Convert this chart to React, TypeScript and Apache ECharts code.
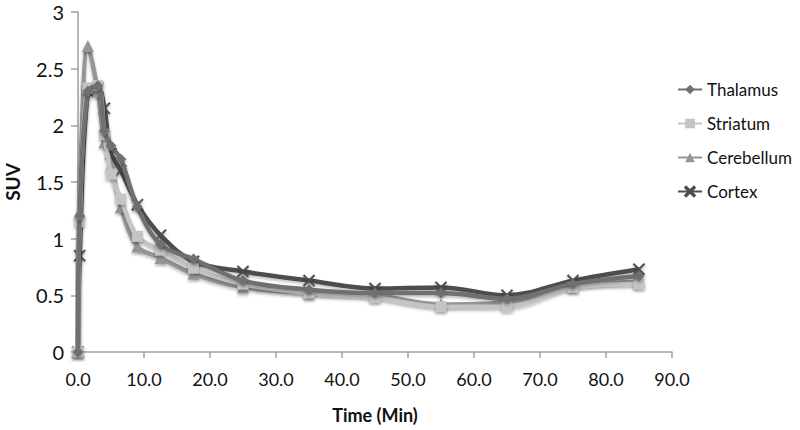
import React, { useEffect, useRef } from "react";
import * as echarts from "echarts";

const times = [0, 0.25, 1.5, 3, 4, 5, 6.5, 9, 12.5, 17.5, 25, 35, 45, 55, 65, 75, 85];
const thalamus = [0, 1.2, 2.3, 2.35, 1.95, 1.82, 1.7, 1.28, 0.95, 0.82, 0.63, 0.55, 0.52, 0.52, 0.47, 0.6, 0.67];
const striatum = [0, 1.15, 2.33, 2.35, 1.92, 1.57, 1.35, 1.02, 0.9, 0.74, 0.6, 0.52, 0.48, 0.4, 0.4, 0.57, 0.6];
const cerebellum = [0, 1.23, 2.7, 2.3, 1.85, 1.65, 1.28, 0.93, 0.83, 0.69, 0.57, 0.52, 0.5, 0.42, 0.44, 0.58, 0.62];
const cortex = [0, 0.85, 2.3, 2.33, 2.15, 1.75, 1.6, 1.3, 1.03, 0.8, 0.71, 0.63, 0.56, 0.57, 0.5, 0.63, 0.73];

const seriesNames = ["Thalamus", "Striatum", "Cerebellum", "Cortex"];
const seriesValues = [thalamus, striatum, cerebellum, cortex];
const seriesColors = ["#6f6f6f", "#c4c4c4", "#959595", "#4d4d4d"];
const xSymbol =
  "path://M0,1 L1,0 L5,4 L9,0 L10,1 L6,5 L10,9 L9,10 L5,6 L1,10 L0,9 L4,5 Z";
const seriesSymbols = ["diamond", "rect", "triangle", xSymbol];
const symbolSizes = [11, 11, 12, 12];

const FONT = "Lato, 'Open Sans', sans-serif";

export default function App() {
  const ref = useRef<HTMLDivElement>(null);
  useEffect(() => {
    if (!ref.current) return;
    const chart = echarts.init(ref.current, null, { renderer: "svg" });
    chart.setOption({
      animation: false,
      backgroundColor: "#ffffff",
      grid: {
        left: 78,
        right: 128,
        top: 12,
        bottom: 78,
        containLabel: false,
        outerBoundsMode: "none",
      },
      legend: {
        orient: "vertical",
        left: 672,
        top: 76,
        itemGap: 17,
        itemWidth: 24,
        itemHeight: 12,
        textStyle: { fontFamily: FONT, fontSize: 17, color: "#111" },
        data: seriesNames,
      },
      xAxis: {
        type: "value",
        min: 0,
        max: 90,
        interval: 10,
        name: "Time (Min)",
        nameLocation: "middle",
        nameGap: 54,
        nameTextStyle: { fontFamily: FONT, fontSize: 18, fontWeight: "bold", color: "#111" },
        axisLine: { show: true, lineStyle: { color: "#a0a0a0", width: 1.5 } },
        axisTick: { show: true, length: 6, lineStyle: { color: "#a0a0a0", width: 1.5 } },
        axisLabel: {
          margin: 18,
          fontFamily: FONT,
          fontSize: 18,
          color: "#111",
          formatter: (v: number) => v.toFixed(1),
        },
        splitLine: { show: false },
      },
      yAxis: {
        type: "value",
        min: 0,
        max: 3,
        interval: 0.5,
        name: "SUV",
        nameLocation: "middle",
        nameGap: 56,
        nameRotate: 90,
        nameTextStyle: { fontFamily: FONT, fontSize: 19, fontWeight: "bold", color: "#111" },
        axisLine: { show: true, lineStyle: { color: "#a0a0a0", width: 1.5 } },
        axisTick: { show: true, length: 7, lineStyle: { color: "#a0a0a0", width: 1.5 } },
        axisLabel: { margin: 14, fontFamily: FONT, fontSize: 20, color: "#111" },
        splitLine: { show: false },
      },
      series: seriesNames.map((name, k) => ({
        name,
        type: "line",
        smooth: 0.35,
        data: times.map((t, i) => [t, seriesValues[k][i]]),
        symbol: seriesSymbols[k],
        symbolSize: symbolSizes[k],
        showAllSymbol: true,
        z: 10 - k,
        lineStyle: {
          color: seriesColors[k],
          width: 4.5,
          shadowColor: "rgba(0,0,0,0.25)",
          shadowBlur: 3,
          shadowOffsetY: 2,
        },
        itemStyle: {
          color: seriesColors[k],
          borderColor: seriesColors[k],
          borderWidth: k === 3 ? 0.5 : 0,
          shadowColor: "rgba(0,0,0,0.3)",
          shadowBlur: 3,
          shadowOffsetY: 2,
        },
      })),
    });
    return () => chart.dispose();
  }, []);
  return (
    <div
      ref={ref}
      style={{ position: "absolute", left: 0, top: 0, width: 800, height: 430 }}
    />
  );
}
